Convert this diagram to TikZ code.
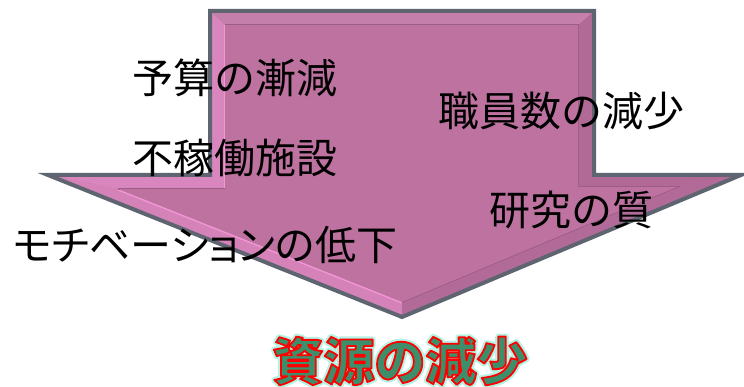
\documentclass[tikz,border=0pt]{standalone}
\usepackage{fontspec}
\newfontfamily\jp{Noto Sans CJK JP}
\newfontfamily\jpp[RawFeature=+palt]{Noto Sans CJK JP}
\definecolor{arrowfill}{HTML}{BD72A0}
\definecolor{arrowline}{HTML}{5E6470}
\definecolor{bevlight}{HTML}{F296D6}
\definecolor{bevdark}{HTML}{9A5A84}
\definecolor{titlegreen}{HTML}{3D8F6B}
\definecolor{titleglow}{HTML}{B4F2E4}
\newcommand{\strokedtext}[3]{% stroke colour (r g b), width, text
  \special{pdf:literal direct q 2 Tr #2 w 1 j #1 RG}#3\special{pdf:literal direct 0 Tr Q}}
\tikzset{
  lbl/.style={font=\jp\fontsize{41}{41}\selectfont, text=black, inner sep=0pt},
  lblp/.style={font=\jpp\fontsize{41}{41}\selectfont, text=black, inner sep=0pt},
  ttl/.style={font=\jp\bfseries\fontsize{51}{51}\selectfont, inner sep=0pt},
}
\begin{document}
\begin{tikzpicture}[x=1pt,y=-1pt]
\useasboundingbox (0,0) rectangle (744,387);
% outer arrow
\coordinate (A) at (210,11);
\coordinate (B) at (594,11);
\coordinate (C) at (594,175);
\coordinate (D) at (741,175);
\coordinate (E) at (402,317);
\coordinate (F) at (48,175);
\coordinate (G) at (210,175);
% inner bevel
\coordinate (a) at (225,25);
\coordinate (b) at (578,25);
\coordinate (c) at (578,187);
\coordinate (d) at (677,187);
\coordinate (e) at (402,302);
\coordinate (f) at (118,189);
\coordinate (g) at (225,189);
\fill[arrowfill] (A) -- (B) -- (C) -- (D) -- (E) -- (F) -- (G) -- cycle;
% bevel facets
\fill[bevlight!55!arrowfill] (A) -- (a) -- (g) -- (f) -- (F) -- (G) -- cycle;
\fill[bevlight!45!arrowfill] (F) -- (f) -- (e) -- (E) -- cycle;
\fill[bevdark!35!arrowfill] (B) -- (b) -- (c) -- (d) -- (D) -- (C) -- cycle;
\fill[bevdark!30!arrowfill] (D) -- (d) -- (e) -- (E) -- cycle;
\fill[arrowfill!90!white] (A) -- (B) -- (b) -- (a) -- cycle;
% inner edges
\draw[bevlight, line width=3pt] (g) -- (a);
\draw[bevlight, line width=3pt] (f) -- (e);
\draw[bevdark, line width=1.5pt] (a) -- (b) -- (c) -- (d) -- (e);
\draw[bevdark, line width=1.5pt] (f) -- (g);
\fill[arrowfill] (a) -- (b) -- (c) -- (d) -- (e) -- (f) -- (g) -- cycle;
% outline
\draw[arrowline, line width=4pt, line join=miter] (A) -- (B) -- (C) -- (D) -- (E) -- (F) -- (G) -- cycle;
% labels
\node[lbl] (t1) at (235,78) {予算の漸減};
\node[lbl] (t2) at (561,111) {職員数の減少};
\node[lbl] (t3) at (235,158) {不稼働施設};
\node[lbl] (t4) at (571,210) {研究の質};
\node[lblp] (t5) at (205,245) {モチベーションの低下};
% title
\node[ttl, text=titleglow] (glow) at (400,361) {\strokedtext{0.71 0.95 0.89}{6}{資源の減少}};
\node[ttl, text=titlegreen] (title) at (400,361) {\strokedtext{1 0 0}{1.8}{資源の減少}};
\end{tikzpicture}
\end{document}
